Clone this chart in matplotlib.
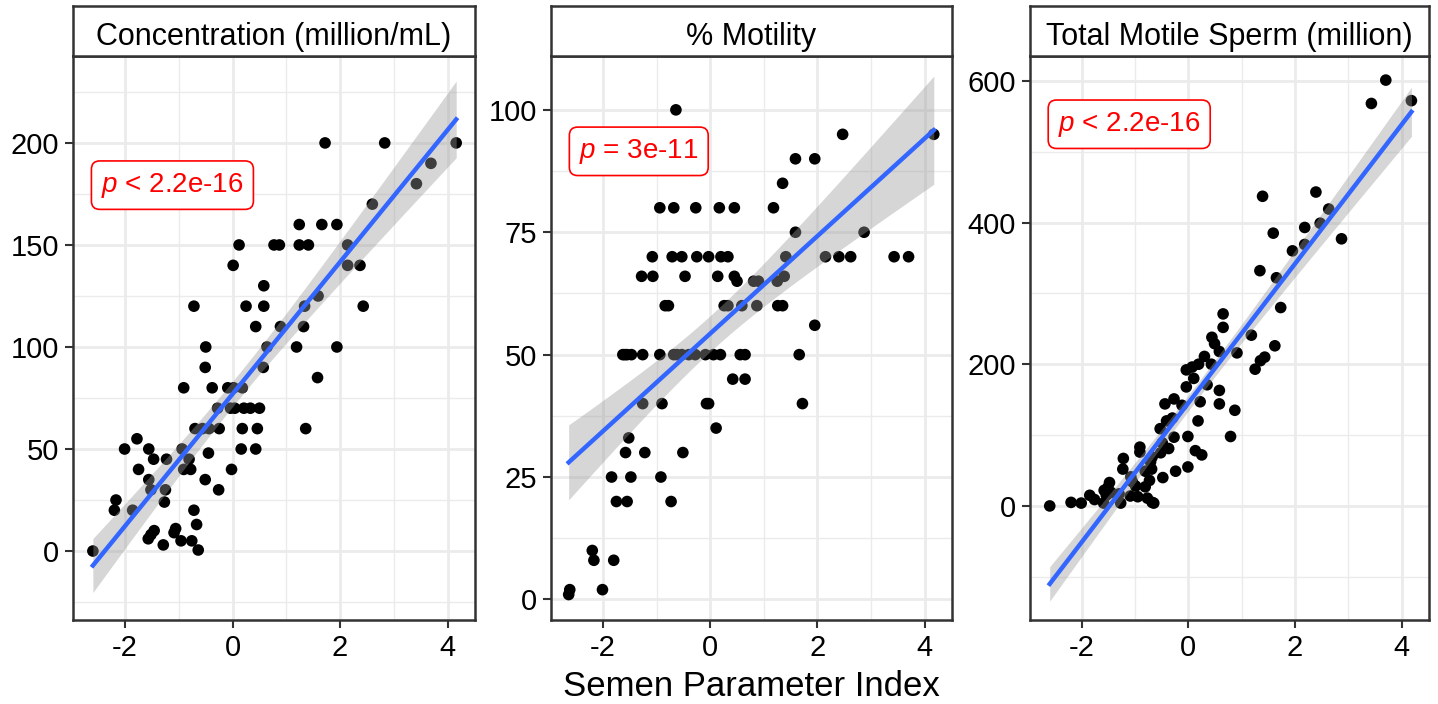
import numpy as np
import matplotlib
matplotlib.use("Agg")
from matplotlib import pyplot as plt

plt.rcParams['font.family'] = ['Liberation Sans', 'DejaVu Sans']
plt.rcParams['mathtext.fontset'] = 'custom'
plt.rcParams['mathtext.rm'] = 'Liberation Sans'
plt.rcParams['mathtext.it'] = 'Liberation Sans:italic'
plt.rcParams['axes.unicode_minus'] = False

# ---- data ----
panel_titles = ["Concentration (million/mL)", "% Motility", "Total Motile Sperm (million)"]
p_labels = [r"$p$ < 2.2e-16", r"$p$ = 3e-11", r"$p$ < 2.2e-16"]

conc_x = [1.72, 2.83, 4.16, 3.69, 3.42, 2.60, 1.24, 1.66, 1.94,
          0.12, 0.77, 0.87, 1.24, 1.41, 2.14, 0.01, 2.14, 2.37, 0.58,
          -0.72, 0.25, 0.58, 1.59, 1.34, 2.43, 0.43, 0.89, 1.32,
          -0.50, 0.64, 1.19, 1.94, -0.51, 0.57, 1.58,
          -0.91, -0.38, -0.09, 0.02, 0.18,
          -0.28, -0.04, 0.04, 0.21, 0.33, 0.50,
          -0.70, -0.56, -0.44, -0.25, 0.18, 0.46, 1.36,
          -1.78, -2.01, -1.56, -0.94, 0.16, 0.43,
          -1.47, -1.23, -0.81, -0.45, -1.75, -0.91, -0.78, -0.02,
          -1.56, -0.51, -1.52, -1.25, -0.26, -1.27,
          -2.17, -2.20, -1.86, -0.72,
          -0.67, -1.06, -1.09, -1.46, -1.52, -1.57, -1.29, -0.96, -0.76, -0.64, -2.60]
conc_y = [200, 200, 200, 190, 180, 170, 160, 160, 160,
          150, 150, 150, 150, 150, 150, 140, 140, 140, 130,
          120, 120, 120, 125, 120, 120, 110, 110, 110,
          100, 100, 100, 100, 90, 90, 85,
          80, 80, 80, 80, 80,
          70, 70, 70, 70, 70, 70,
          60, 60, 60, 60, 60, 60, 60,
          55, 50, 50, 50, 50, 50,
          45, 45, 45, 48, 40, 40, 40, 40,
          35, 35, 30, 30, 30, 24,
          25, 20, 20, 20,
          13, 11, 9, 10, 8, 6, 3, 5, 5, 0.5, 0]

mot_x = [-0.64, 2.47, 4.17, 1.59, 1.95, 1.35,
         -0.94, -0.68, -0.27, 0.17, 0.45, 1.18, 1.59, 2.87,
         -1.08, -0.71, -0.53, -0.25, -0.03, 0.20, 0.33, 1.41, 2.15, 2.40, 2.62, 3.43, 3.70,
         -1.28, -1.07, -0.47, 0.14, 0.45, 1.38, 0.50, 0.81, 0.90, 1.25,
         -0.84, -0.78, 0.26, 0.33, 0.59, 0.87, 1.26, 1.35, 1.95,
         -1.63, -1.59, -1.55, -1.47, -1.26, -0.94, -0.68, -0.62, -0.53, -0.40, -0.28,
         -0.09, 0.06, 0.19, 0.56, 0.65, 1.66,
         0.42, 0.65, -1.26, -0.90, -0.07, -0.03, 1.72, 0.11, -1.52,
         -1.58, -1.22, -0.51, -1.84, -1.48, -0.92, -1.75, -1.55, -0.73,
         -2.20, -2.17, -1.80, -2.01, -2.62, -2.64]
mot_y = [100, 95, 95, 90, 90, 85,
         80, 80, 80, 80, 80, 80, 75, 75,
         70, 70, 70, 70, 70, 70, 70, 70, 70, 70, 70, 70, 70,
         66, 66, 66, 66, 66, 66, 65, 65, 65, 65,
         60, 60, 60, 60, 60, 60, 60, 60, 56,
         50, 50, 50, 50, 50, 50, 50, 50, 50, 50, 50,
         50, 50, 50, 50, 50, 50,
         45, 45, 40, 40, 40, 40, 40, 35, 33,
         30, 30, 30, 25, 25, 25, 20, 20, 20,
         10, 8, 8, 2, 2, 1]

tms_x = [3.70, 3.43, 4.18, 1.39, 2.39, 2.63, 2.47, 2.18, 1.59, 2.87, 2.18, 1.95,
         1.34, 1.65, 1.73, 0.65, 0.65, 1.18, 0.44, 0.49, 0.58, 0.91, 1.62, 1.43,
         1.35, 1.25, 0.30, 0.19, 0.43, 0.07, -0.04, 0.10, -0.04, 0.35, 0.58,
         0.22, 0.58, 0.87, -0.12, -0.27, -0.44, 0.18, -0.30, -0.41, -0.53,
         -0.01, 0.79, -0.27, -0.49, -0.37, -0.52, 0.13, 0.25, -0.01, -0.24,
         -0.48, -0.91, -0.91, -1.22, -1.23, -0.68, -0.71, -0.69, -0.81, -0.73,
         -0.99, -0.81, -1.08, -1.05, -1.09, -0.95, -1.27, -0.77, -0.68, -0.65,
         -1.48, -1.51, -1.58, -1.54, -1.45, -1.59, -1.30, -1.85, -1.76, -2.01,
         -2.20, -2.60]
tms_y = [601, 568, 572, 437, 443, 419, 399, 393, 385, 377, 369, 360,
         332, 322, 280, 271, 252, 241, 238, 229, 218, 216, 226, 210,
         205, 193, 211, 200, 200, 196, 192, 180, 168, 171, 163,
         147, 144, 135, 142, 151, 144, 120, 124, 120, 109,
         98, 98, 97, 89, 81, 75, 78, 72, 55, 49,
         40, 83, 76, 67, 52, 69, 62, 52, 49, 36,
         28, 27, 41, 34, 14, 13, 4, 11, 5, 4,
         33, 26, 22, 15, 19, 4, 17, 15, 9, 4,
         5, 0]

xs_all = [conc_x, mot_x, tms_x]
ys_all = [conc_y, mot_y, tms_y]
y_ticks = [[0, 50, 100, 150, 200], [0, 25, 50, 75, 100], [0, 200, 400, 600]]
y_lims = [(-33.8, 242.6), (-4.2, 111.0), (-161, 635)]
x_lim = (-2.97, 4.51)
label_y = [0.771, 0.831, 0.879]


def lm_band(x, y, n=80, t=1.99):
    x = np.asarray(x, float)
    y = np.asarray(y, float)
    X = np.column_stack([np.ones_like(x), x])
    beta = np.linalg.lstsq(X, y, rcond=None)[0]
    resid = y - X @ beta
    s2 = resid @ resid / (len(x) - 2)
    cov = s2 * np.linalg.inv(X.T @ X)
    grid = np.linspace(x.min(), x.max(), n)
    G = np.column_stack([np.ones_like(grid), grid])
    fit = G @ beta
    se = np.sqrt(np.sum((G @ cov) * G, axis=1))
    return grid, fit, fit - t * se, fit + t * se


W, H = 1438, 704
fig = plt.figure(figsize=(W / 100, H / 100), dpi=100)

lefts = [73, 551, 1030]
widths = [402, 401, 399]
top, bottom, strip_top = 56, 620, 6
edge = '#333333'

for i in range(3):
    ax = fig.add_axes([lefts[i] / W, (H - bottom) / H, widths[i] / W, (bottom - top) / H])
    lo_y, hi_y = y_lims[i]
    yt = y_ticks[i]
    step = yt[1] - yt[0]
    ax.set_xticks([-2, 0, 2, 4])
    ax.set_xticks([v for v in [-3, -1, 1, 3] if x_lim[0] < v < x_lim[1]], minor=True)
    ax.set_yticks(yt)
    minor_y = [v - step / 2 for v in yt] + [yt[-1] + step / 2]
    ax.set_yticks([v for v in minor_y if lo_y < v < hi_y], minor=True)
    ax.set_xlim(*x_lim)
    ax.set_ylim(lo_y, hi_y)
    ax.grid(True, which='major', color='#EBEBEB', lw=2.0, zorder=0)
    ax.grid(True, which='minor', color='#EBEBEB', lw=1.0, zorder=0)
    ax.set_axisbelow(True)
    ax.tick_params(which='major', length=6, width=1.5, color=edge, labelsize=21, labelcolor='black', pad=4)
    ax.tick_params(which='minor', length=0)
    for s in ax.spines.values():
        s.set_color(edge)
        s.set_linewidth(1.8)

    ax.scatter(xs_all[i], ys_all[i], s=70, color='black', edgecolors='none', zorder=2)
    gx, fit, lo, hi = lm_band(xs_all[i], ys_all[i])
    ax.fill_between(gx, lo, hi, color='#999999', alpha=0.4, lw=0, zorder=3)
    ax.plot(gx, fit, color='#3366FF', lw=3.2, zorder=4)

    ax.text(0.07, label_y[i], p_labels[i], transform=ax.transAxes, color='red',
            fontsize=20, ha='left', va='center', zorder=5,
            bbox=dict(boxstyle='round,pad=0.35,rounding_size=0.3', fc='white', ec='red', lw=1.2))

    # facet strip
    sx = fig.add_axes([lefts[i] / W, (H - top) / H, widths[i] / W, (top - strip_top) / H])
    sx.set_xticks([])
    sx.set_yticks([])
    for s in sx.spines.values():
        s.set_color(edge)
        s.set_linewidth(1.8)
    sx.text(0.5, 0.45, panel_titles[i], ha='center', va='center_baseline', fontsize=22, color='black')

fig.text(751 / W, 1 - 686 / H, "Semen Parameter Index", ha='center', va='center', fontsize=25)

fig.savefig("out.png", dpi=100)
